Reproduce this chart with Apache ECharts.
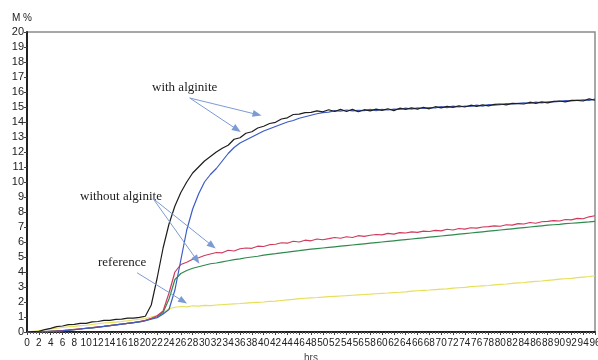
<!DOCTYPE html>
<html>
<head>
<meta charset="utf-8">
<script src="https://cdn.jsdelivr.net/npm/echarts@6/dist/echarts.min.js"></script>
<style>
  html, body { margin: 0; padding: 0; background: #fff; }
  #chart { width: 598px; height: 360px; }
</style>
</head>
<body>
<div id="chart"></div>
<script>
// Moisture uptake (M %) over time (hrs), one reading per hour
const hours = [];
for (let h = 0; h <= 96; h++) hours.push(h);

// with alginite, sample 1 (black)
const alginiteA = [
  0.00, 0.03, 0.05, 0.16, 0.24, 0.36, 0.40, 0.49, 0.51, 0.57,
  0.58, 0.67, 0.70, 0.77, 0.78, 0.84, 0.86, 0.92, 0.93, 0.98,
  1.05, 1.80, 3.60, 5.60, 7.20, 8.40, 9.30, 10.00, 10.60, 11.00,
  11.40, 11.70, 12.00, 12.25, 12.45, 12.85, 12.95, 13.25, 13.35, 13.60,
  13.72, 13.90, 13.98, 14.20, 14.28, 14.50, 14.52, 14.62, 14.64, 14.74,
  14.68, 14.82, 14.70, 14.84, 14.70, 14.84, 14.68, 14.82, 14.74, 14.86,
  14.78, 14.88, 14.76, 14.92, 14.84, 14.94, 14.86, 14.98, 14.88, 15.02,
  14.94, 15.04, 14.98, 15.08, 15.00, 15.12, 15.04, 15.14, 15.08, 15.18,
  15.20, 15.14, 15.24, 15.22, 15.20, 15.32, 15.24, 15.34, 15.28, 15.38,
  15.40, 15.34, 15.44, 15.44, 15.40, 15.54, 15.45
];

// with alginite, sample 2 (blue)
const alginiteB = [
  0.00, 0.00, 0.02, 0.03, 0.05, 0.06, 0.08, 0.12, 0.15, 0.20,
  0.25, 0.28, 0.33, 0.38, 0.42, 0.48, 0.52, 0.57, 0.62, 0.68,
  0.75, 0.85, 0.95, 1.20, 1.50, 2.80, 4.80, 6.80, 8.20, 9.20,
  10.00, 10.50, 10.90, 11.40, 11.90, 12.30, 12.60, 12.80, 13.00, 13.20,
  13.40, 13.55, 13.70, 13.85, 14.00, 14.10, 14.25, 14.35, 14.45, 14.55,
  14.62, 14.66, 14.76, 14.72, 14.80, 14.74, 14.78, 14.76, 14.84, 14.76,
  14.84, 14.80, 14.86, 14.84, 14.92, 14.86, 14.94, 14.90, 14.96, 14.94,
  15.02, 14.96, 15.06, 15.00, 15.06, 15.04, 15.12, 15.06, 15.16, 15.12,
  15.16, 15.22, 15.20, 15.24, 15.28, 15.24, 15.32, 15.28, 15.34, 15.34,
  15.38, 15.42, 15.40, 15.44, 15.48, 15.44, 15.52
];

// without alginite, sample 1 (red)
const plainA = [
  0.00, 0.00, 0.02, 0.03, 0.05, 0.07, 0.10, 0.13, 0.17, 0.21,
  0.25, 0.29, 0.34, 0.38, 0.43, 0.48, 0.53, 0.58, 0.63, 0.70,
  0.78, 0.92, 1.08, 1.40, 2.60, 4.00, 4.50, 4.65, 4.85, 4.95,
  5.10, 5.20, 5.30, 5.28, 5.45, 5.40, 5.55, 5.60, 5.58, 5.72,
  5.70, 5.82, 5.85, 5.95, 5.92, 6.05, 6.00, 6.12, 6.08, 6.20,
  6.15, 6.22, 6.30, 6.25, 6.35, 6.30, 6.42, 6.38, 6.45, 6.50,
  6.48, 6.58, 6.52, 6.62, 6.60, 6.68, 6.64, 6.72, 6.70, 6.78,
  6.74, 6.85, 6.80, 6.90, 6.86, 6.95, 6.92, 7.00, 7.02, 7.08,
  7.05, 7.15, 7.12, 7.22, 7.20, 7.30, 7.25, 7.35, 7.38, 7.42,
  7.40, 7.50, 7.48, 7.58, 7.55, 7.68, 7.75
];

// without alginite, sample 2 (green)
const plainB = [
  0.00, 0.00, 0.01, 0.03, 0.05, 0.07, 0.09, 0.12, 0.16, 0.20,
  0.24, 0.28, 0.33, 0.37, 0.42, 0.47, 0.52, 0.57, 0.62, 0.68,
  0.76, 0.88, 1.02, 1.30, 2.20, 3.50, 3.90, 4.10, 4.25, 4.35,
  4.45, 4.55, 4.60, 4.68, 4.75, 4.82, 4.88, 4.95, 5.00, 5.05,
  5.12, 5.18, 5.22, 5.28, 5.32, 5.38, 5.42, 5.48, 5.52, 5.56,
  5.60, 5.64, 5.68, 5.72, 5.76, 5.80, 5.84, 5.88, 5.92, 5.96,
  6.00, 6.04, 6.08, 6.12, 6.16, 6.20, 6.24, 6.28, 6.32, 6.36,
  6.40, 6.44, 6.48, 6.52, 6.56, 6.60, 6.64, 6.68, 6.72, 6.76,
  6.80, 6.84, 6.88, 6.92, 6.96, 7.00, 7.04, 7.08, 7.12, 7.15,
  7.18, 7.22, 7.25, 7.28, 7.31, 7.34, 7.38
];

// reference (yellow)
const referenceSeries = [
  0.00, 0.05, 0.10, 0.15, 0.20, 0.25, 0.30, 0.35, 0.38, 0.42,
  0.45, 0.50, 0.55, 0.60, 0.62, 0.66, 0.70, 0.75, 0.80, 0.85,
  0.90, 1.00, 1.10, 1.30, 1.55, 1.65, 1.70, 1.68, 1.75, 1.72,
  1.78, 1.76, 1.80, 1.82, 1.85, 1.88, 1.90, 1.93, 1.96, 1.98,
  2.00, 2.04, 2.06, 2.10, 2.14, 2.18, 2.22, 2.25, 2.28, 2.30,
  2.33, 2.36, 2.38, 2.40, 2.42, 2.45, 2.48, 2.50, 2.52, 2.55,
  2.58, 2.60, 2.63, 2.65, 2.68, 2.72, 2.75, 2.78, 2.80, 2.83,
  2.86, 2.88, 2.92, 2.95, 2.98, 3.02, 3.05, 3.08, 3.10, 3.14,
  3.18, 3.20, 3.24, 3.28, 3.30, 3.34, 3.38, 3.40, 3.44, 3.48,
  3.52, 3.55, 3.58, 3.62, 3.66, 3.70, 3.75
];

const pair = (ys) => hours.map((h, i) => [h, ys[i]]);

// callout arrows in chart coordinates [hrs, M %]
const arrows = [
  [[27.5, 15.6], [38.9, 14.5]],
  [[27.5, 15.6], [35.5, 13.5]],
  [[21.3, 8.9], [31.3, 5.75]],
  [[21.3, 8.9], [28.7, 4.8]],
  [[18.6, 3.95], [26.4, 2.05]]
];

const chart = echarts.init(document.getElementById('chart'), null, { renderer: 'canvas' });

const lineSeries = (name, data, color) => ({
  name, type: 'line', data: pair(data), showSymbol: false, symbol: 'none',
  smooth: false, animation: false,
  lineStyle: { color, width: 1.2 },
  z: 3
});

chart.setOption({
  animation: false,
  backgroundColor: '#fff',
  grid: {
    left: 27, top: 32, right: 3, bottom: 28,
    outerBoundsMode: 'none', containLabel: false,
    show: true, borderColor: '#8a8a8a', borderWidth: 1.5
  },
  xAxis: {
    type: 'value', min: 0, max: 96, interval: 2,
    name: 'hrs', nameLocation: 'middle', nameGap: 21,
    nameTextStyle: { fontFamily: 'Liberation Sans', fontSize: 10, color: '#444' },
    axisLine: { lineStyle: { color: '#222', width: 2 } },
    axisTick: { show: true, inside: false, length: 3, lineStyle: { color: '#444' } },
    minorTick: { show: true, splitNumber: 4, length: 2, lineStyle: { color: '#666' } },
    axisLabel: { fontFamily: 'Liberation Sans', fontSize: 10, color: '#222', margin: 6, hideOverlap: false, interval: 0 },
    splitLine: { show: false }
  },
  yAxis: {
    type: 'value', min: 0, max: 20, interval: 1,
    axisLine: { show: true, lineStyle: { color: '#222', width: 2 } },
    axisTick: { show: true, inside: false, length: 3, lineStyle: { color: '#444' } },
    axisLabel: { fontFamily: 'Liberation Sans', fontSize: 11, color: '#222', margin: 3 },
    splitLine: { show: false }
  },
  graphic: [
    { type: 'text', left: 12, top: 13, style: { text: 'M %', font: '10px "Liberation Sans"', fill: '#222' } },
    { type: 'text', left: 152, top: 81, style: { text: 'with alginite', font: '13px "Liberation Serif"', fill: '#222' } },
    { type: 'text', left: 80, top: 190, style: { text: 'without alginite', font: '13px "Liberation Serif"', fill: '#222' } },
    { type: 'text', left: 98, top: 256, style: { text: 'reference', font: '13px "Liberation Serif"', fill: '#222' } }
  ],
  series: [
    lineSeries('reference', referenceSeries, '#e6df5a'),
    lineSeries('without alginite 2', plainB, '#2f8a4e'),
    lineSeries('without alginite 1', plainA, '#d03a5e'),
    lineSeries('with alginite 2', alginiteB, '#3c5cc4'),
    Object.assign(lineSeries('with alginite 1', alginiteA, '#1e1e1e'), {
      markLine: {
        silent: true, animation: false,
        symbol: ['none', 'triangle'], symbolSize: [7, 9],
        label: { show: false },
        lineStyle: { color: '#7d9bd3', width: 1, type: 'solid' },
        itemStyle: { color: '#4472c4' },
        data: arrows.map(([a, b]) => [{ coord: a }, { coord: b }])
      }
    })
  ]
});
</script>
</body>
</html>
